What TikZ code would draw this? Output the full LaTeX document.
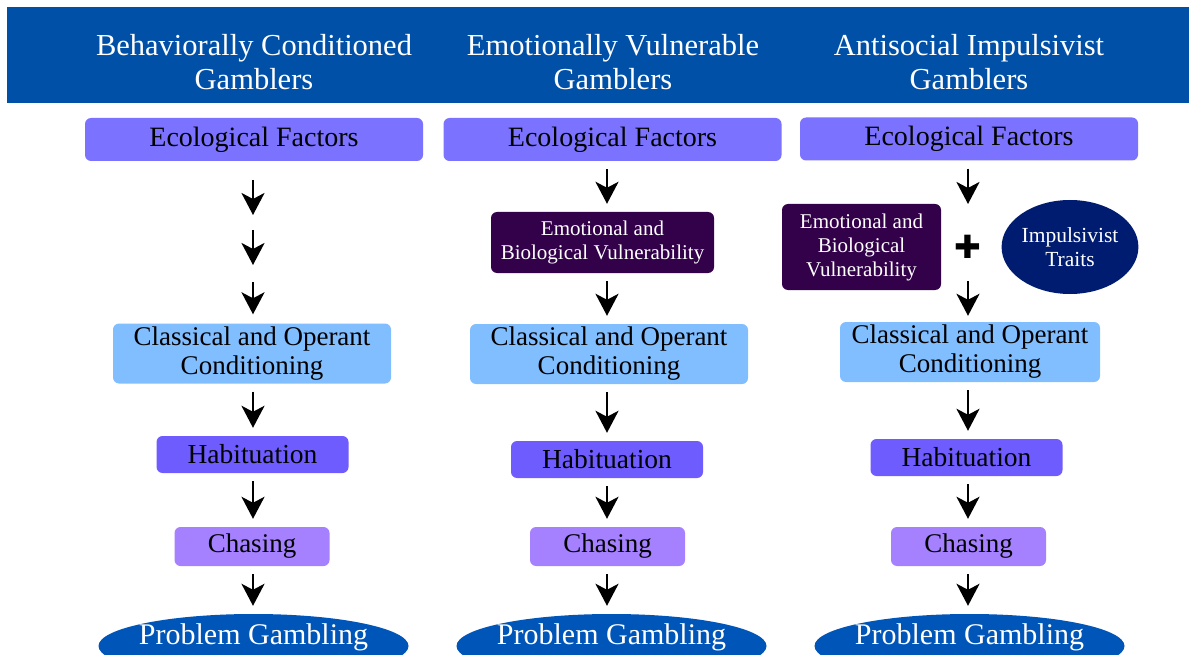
\documentclass[tikz,border=0pt]{standalone}
\usepackage{fontspec}
\setmainfont{Liberation Serif}
\newfontfamily\symfont{DejaVu Sans}
\usetikzlibrary{arrows.meta,shapes.geometric}
\definecolor{hdr}{RGB}{0,80,168}
\definecolor{eco}{RGB}{123,114,255}
\definecolor{cls}{RGB}{128,190,255}
\definecolor{hab}{RGB}{111,92,255}
\definecolor{chs}{RGB}{165,128,255}
\definecolor{emo}{RGB}{51,0,74}
\definecolor{imp}{RGB}{0,28,112}
\definecolor{pgb}{RGB}{0,85,184}
\tikzset{
  box/.style={rounded corners=6pt, inner sep=0pt, align=center, text=black},
  ecobox/.style={box, fill=eco, minimum width=338pt, minimum height=43pt, font=\fontsize{28}{30}\selectfont},
  clsbox/.style={box, fill=cls, minimum width=278pt, minimum height=60pt, font=\fontsize{27}{29}\selectfont},
  habbox/.style={box, fill=hab, minimum width=192pt, minimum height=37pt, font=\fontsize{27.5}{28}\selectfont},
  chsbox/.style={box, fill=chs, minimum width=155pt, minimum height=39pt, font=\fontsize{27}{28}\selectfont},
  emobox/.style={box, fill=emo, text=white, font=\fontsize{21}{24}\selectfont},
  pgell/.style={ellipse, fill=pgb, inner sep=0pt, minimum width=310pt, minimum height=64pt},
  pgtext/.style={text=white, inner sep=0pt, font=\fontsize{30}{30}\selectfont},
  hdrtext/.style={text=white, align=center, font=\fontsize{30.5}{34}\selectfont},
  tip/.style={-{Stealth[length=22pt,width=23pt,inset=6pt]}, line width=2.6pt, black},
  flow/.style={tip, shorten <=8pt, shorten >=8pt}
}
\begin{document}
\begin{tikzpicture}[x=1pt,y=-1pt]
\useasboundingbox (0,0) rectangle (1189,655);
\clip (0,0) rectangle (1189,655);
\fill[hdr] (7,7) rectangle (1189,103);
\node[hdrtext] (h1) at (254,62) {Behaviorally Conditioned\\Gamblers};
\node[hdrtext] (h2) at (613,62) {Emotionally Vulnerable\\Gamblers};
\node[hdrtext] (h3) at (969,62) {Antisocial Impulsivist\\Gamblers};
% column 1
\node[ecobox] (e1) at (254,139.5) {Ecological Factors};
\coordinate (a1s) at (253,180); \coordinate (a1e) at (253,215);
\coordinate (a2s) at (253,230); \coordinate (a2e) at (253,265);
\coordinate (a3s) at (253,282);
\node[clsbox] (c1) at (252,353.5) {Classical and Operant\\Conditioning};
\node[habbox] (b1) at (252.5,454.5) {Habituation};
\node[chsbox] (s1) at (252,546.5) {Chasing};
\node[pgell] (p1) at (253.5,646) {};
\node[pgtext] (t1) at (253.5,637) {Problem Gambling};
\draw[tip] (a1s) -- (a1e);
\draw[tip] (a2s) -- (a2e);
\draw[tip] (a3s) -- ([yshift=9pt]c1.north -| a3s);
\draw[flow] (c1.south -| a3s) -- (b1.north -| a3s);
\draw[flow] (b1.south -| a3s) -- (s1.north -| a3s);
\draw[flow] (s1.south -| a3s) -- (p1.north -| a3s);
% column 2
\node[ecobox] (e2) at (612.5,139.5) {Ecological Factors};
\coordinate (x2) at (607,0);
\node[emobox, minimum width=223pt, minimum height=61pt] (m2) at (602.5,242.5) {Emotional and\\Biological Vulnerability};
\node[clsbox] (c2) at (609,354) {Classical and Operant\\Conditioning};
\node[habbox] (b2) at (607,459.5) {Habituation};
\node[chsbox] (s2) at (607.5,546.5) {Chasing};
\node[pgell] (p2) at (611.5,646) {};
\node[pgtext] (t2) at (611.5,637) {Problem Gambling};
\draw[flow] (e2.south -| x2) -- (m2.north -| x2);
\draw[flow] (m2.south -| x2) -- (c2.north -| x2);
\draw[flow] (c2.south -| x2) -- (b2.north -| x2);
\draw[flow] (b2.south -| x2) -- (s2.north -| x2);
\draw[flow] (s2.south -| x2) -- (p2.north -| x2);
% column 3
\node[ecobox] (e3) at (969,139) {Ecological Factors};
\node[emobox, minimum width=159pt, minimum height=86pt] (m3) at (861.5,247) {Emotional and\\Biological\\Vulnerability};
\node[font=\symfont\fontsize{32}{32}\selectfont, inner sep=0pt] (pl) at (968,247) {✚};
\node[ellipse, fill=imp, text=white, inner sep=0pt, minimum width=136pt, minimum height=94pt, align=center, font=\fontsize{21.5}{24}\selectfont] (i3) at (1070,247) {Impulsivist\\Traits};
\coordinate (d1) at (968,204);
\coordinate (d2) at (968,281);
\node[clsbox, minimum width=260pt] (c3) at (970,352) {Classical and Operant\\Conditioning};
\node[habbox] (b3) at (966.5,457.5) {Habituation};
\node[chsbox] (s3) at (968.5,546.5) {Chasing};
\node[pgell] (p3) at (969.5,646) {};
\node[pgtext] (t3) at (969.5,637) {Problem Gambling};
\draw[flow] (e3.south -| d1) -- ([yshift=-8pt]d1);
\draw[tip] (d2) -- ([yshift=6pt]c3.north -| d2);
\draw[flow] (c3.south -| d1) -- (b3.north -| d1);
\draw[flow] (b3.south -| d1) -- (s3.north -| d1);
\draw[flow] (s3.south -| d1) -- (p3.north -| d1);
\end{tikzpicture}
\end{document}
